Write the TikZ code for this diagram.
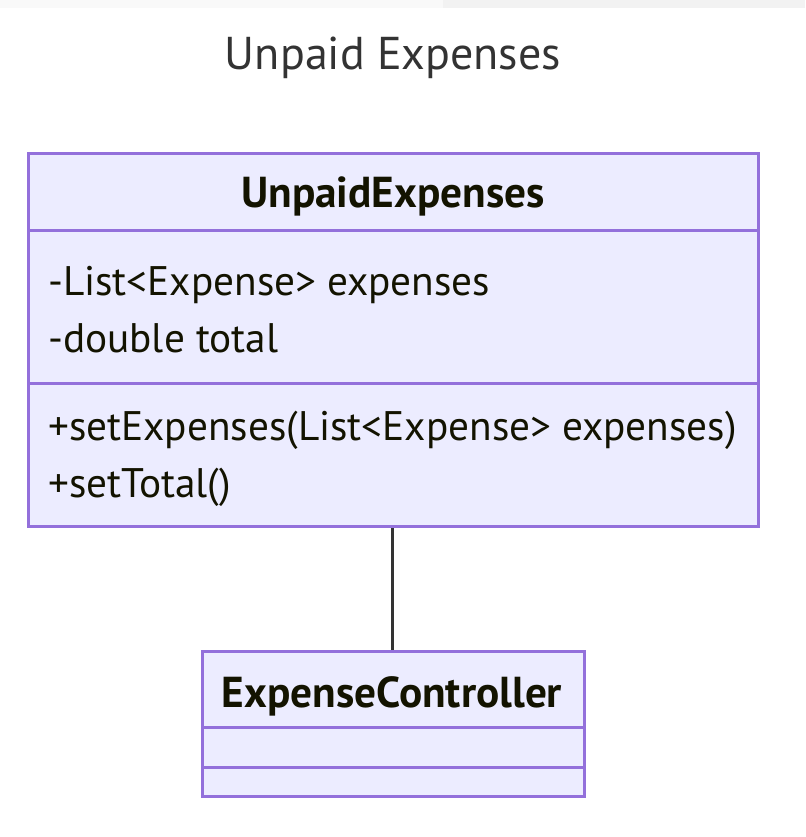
\documentclass[tikz,border=0pt]{standalone}
\usepackage{fontspec}
\setmainfont{PT Sans}
\definecolor{boxfill}{HTML}{ECECFF}
\definecolor{boxline}{HTML}{9370DB}
\definecolor{edge}{HTML}{333333}
\definecolor{txt}{HTML}{131300}
\definecolor{ttl}{HTML}{333333}
\definecolor{barA}{HTML}{F9F9F9}
\definecolor{barB}{HTML}{F2F2F2}
\tikzset{
  classbox/.style={draw=boxline, fill=boxfill, line width=3pt, inner sep=0pt, anchor=north west},
  divider/.style={draw=boxline, line width=3pt},
  member/.style={anchor=base west, inner sep=0pt, text=txt, font=\fontsize{41.3}{49}\selectfont},
  cname/.style={anchor=base, inner sep=0pt, text=txt, font=\fontsize{43.3}{52}\selectfont\bfseries},
  link/.style={draw=edge, line width=3pt},
}
\begin{document}
\begin{tikzpicture}[x=1pt,y=-1pt]
\useasboundingbox (0,0) rectangle (805,837);
\fill[barA] (0,0) rectangle (443,8);
\fill[barB] (443,0) rectangle (805,8);
\node[anchor=base, inner sep=0pt, text=ttl, font=\fontsize{46}{55}\selectfont] (title) at (393,70) {Unpaid Expenses};
% UnpaidExpenses
\node[classbox, minimum width=730pt, minimum height=373pt] (ue) at (27,152) {};
\draw[divider] (27,230) -- (757,230);
\draw[divider] (27,383) -- (757,383);
\node[cname] (uename) at (393,207) {UnpaidExpenses};
\node[member] (a1) at (48,295) {-List<Expense> expenses};
\node[member] (a2) at (48,352) {-double total};
\node[member] (m1) at (48,440) {+setExpenses(List<Expense> expenses)};
\node[member] (m2) at (48,497) {+setTotal()};
% ExpenseController
\node[classbox, minimum width=382pt, minimum height=145pt] (ec) at (201,650) {};
\draw[divider] (201,727) -- (583,727);
\draw[divider] (201,767) -- (583,767);
\node[cname] (ecname) at (392,707) {ExpenseController};
% connector
\draw[link] (ue.south -| 392,0) -- (ec.north -| 392,0);
\end{tikzpicture}
\end{document}
